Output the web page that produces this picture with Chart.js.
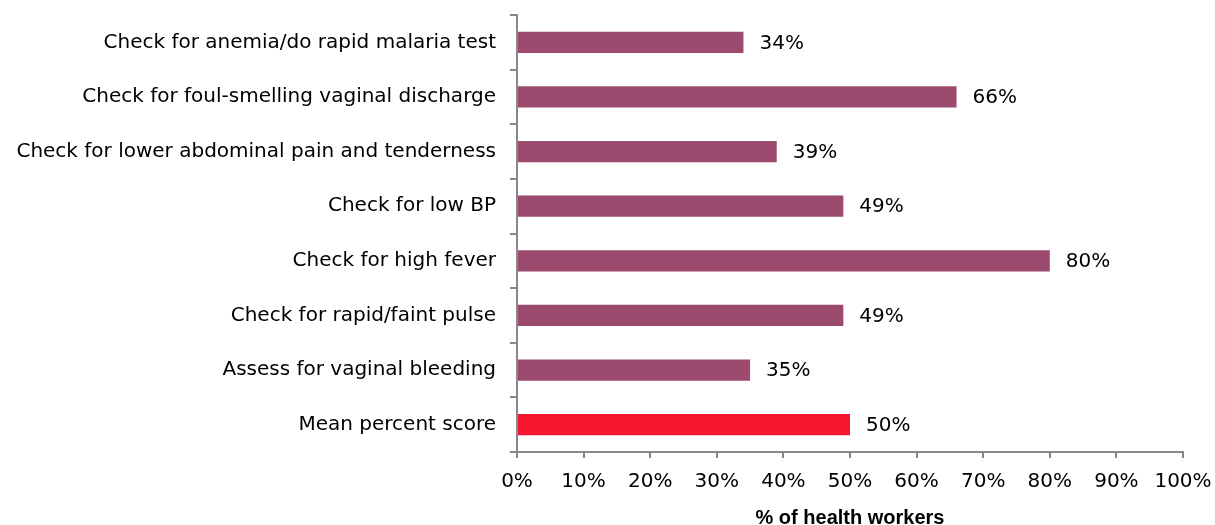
<!DOCTYPE html>
<html>
<head>
<meta charset="utf-8">
<script src="https://cdn.jsdelivr.net/npm/chart.js@4/dist/chart.umd.min.js"></script>
<style>
  html, body { margin: 0; padding: 0; background: #fff; }
  #wrap { width: 1215px; height: 525px; }
</style>
</head>
<body>
<div id="wrap"><canvas id="chart" width="1215" height="525"></canvas></div>
<script>
const categories = [
  "Check for anemia/do rapid malaria test",
  "Check for foul-smelling vaginal discharge",
  "Check for lower abdominal pain and tenderness",
  "Check for low BP",
  "Check for high fever",
  "Check for rapid/faint pulse",
  "Assess for vaginal bleeding",
  "Mean percent score"
];
const values = [34, 66, 39, 49, 80, 49, 35, 50];
const barColors = ["#9c4a6d", "#9c4a6d", "#9c4a6d", "#9c4a6d", "#9c4a6d", "#9c4a6d", "#9c4a6d", "#f5162f"];
const xTicks = [0, 10, 20, 30, 40, 50, 60, 70, 80, 90, 100];

const FONT = "'DejaVu Sans', Arial, sans-serif";

// draws the value labels next to each bar
const valueLabels = {
  id: "valueLabels",
  afterDatasetsDraw(chart) {
    const ctx = chart.ctx;
    const meta = chart.getDatasetMeta(0);
    ctx.save();
    ctx.font = "20px " + FONT;
    ctx.fillStyle = "#000";
    ctx.textAlign = "left";
    ctx.textBaseline = "middle";
    meta.data.forEach((bar, i) => {
      ctx.fillText(values[i] + "%", bar.x + 16, bar.y + 1);
    });
    ctx.restore();
  }
};

new Chart(document.getElementById("chart"), {
  type: "bar",
  data: {
    labels: categories,
    datasets: [{
      data: values,
      backgroundColor: barColors,
      categoryPercentage: 1,
      barPercentage: 0.39
    }]
  },
  options: {
    indexAxis: "y",
    responsive: false,
    animation: false,
    layout: { padding: { top: 15, right: 32, left: 0, bottom: 0 } },
    plugins: {
      legend: { display: false },
      tooltip: { enabled: false }
    },
    scales: {
      y: {
        grid: { offset: true, drawOnChartArea: false, tickLength: 7, color: "#888", lineWidth: 2 },
        border: { color: "#888", width: 2 },
        ticks: { color: "#000", font: { size: 20, family: FONT }, padding: 14 },
        afterFit(scale) {
          scale.width = 517;
          scale.paddingTop = 0;
          scale.paddingBottom = 0;
        }
      },
      x: {
        min: 0,
        max: 100,
        afterBuildTicks(scale) { scale.ticks = xTicks.map(v => ({ value: v })); },
        grid: { drawOnChartArea: false, tickLength: 6, color: "#888", lineWidth: 2 },
        border: { color: "#888", width: 2 },
        ticks: { color: "#000", font: { size: 20, family: FONT }, padding: 12, callback: v => v + "%" },
        title: {
          display: true, text: "% of health workers", color: "#000",
          font: { size: 20, weight: "bold", family: "'Liberation Sans', Arial, sans-serif" },
          padding: { top: 0, bottom: -5 }
        },
        afterFit(scale) {
          scale.height = 73;
          scale.paddingLeft = 0;
          scale.paddingRight = 0;
        }
      }
    }
  },
  plugins: [valueLabels]
});
</script>
</body>
</html>
